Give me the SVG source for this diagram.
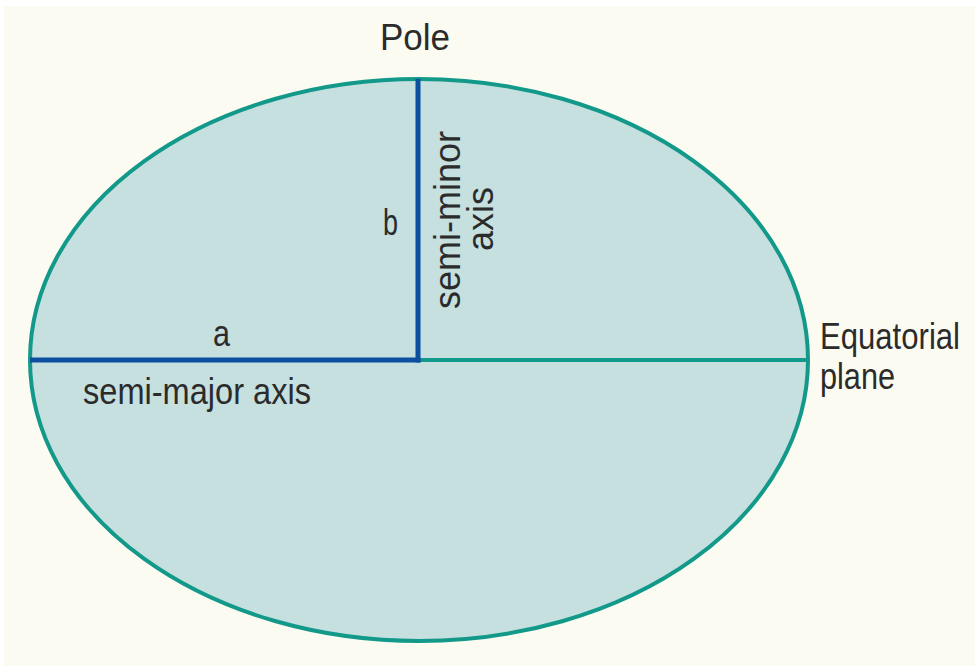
<svg xmlns="http://www.w3.org/2000/svg" width="975" height="666" viewBox="0 0 975 666">
<style>
  .lbl { font-family: "Liberation Sans", Arial, sans-serif; font-size: 36px; fill: #2b2b2b; }
  .teal { stroke: #12998a; stroke-width: 4; fill: none; }
  .blue { stroke: #0c4f9f; stroke-width: 5; fill: none; }
  .body { fill: #c6dfdf; stroke: #12998a; stroke-width: 4; }
</style>
<rect x="0" y="0" width="975" height="666" fill="#ffffff"/>
<rect x="4" y="6" width="971" height="660" fill="#fbfbf1"/>
<g id="ellipse">
  <ellipse cx="419" cy="360" rx="389" ry="281" class="body"/>
</g>
<g id="connectors">
  <line x1="418" y1="360" x2="808" y2="360" class="teal"/>
  <line x1="30" y1="360" x2="420.5" y2="360" class="blue"/>
  <line x1="418" y1="79" x2="418" y2="362.5" class="blue"/>
</g>
<g id="labels">
  <text class="lbl" x="380" y="50" textLength="70" lengthAdjust="spacingAndGlyphs">Pole</text>
  <text class="lbl" x="213" y="346" textLength="17" lengthAdjust="spacingAndGlyphs">a</text>
  <text class="lbl" x="83" y="404" textLength="228" lengthAdjust="spacingAndGlyphs">semi-major axis</text>
  <text class="lbl" x="383" y="235" textLength="15" lengthAdjust="spacingAndGlyphs">b</text>
  <text class="lbl" x="820" y="349" textLength="140" lengthAdjust="spacingAndGlyphs">Equatorial</text>
  <text class="lbl" x="820" y="389" textLength="75" lengthAdjust="spacingAndGlyphs">plane</text>
  <text class="lbl" transform="translate(460,220) rotate(-90)" x="0" y="0" text-anchor="middle">semi-minor</text>
  <text class="lbl" transform="translate(493,219) rotate(-90)" x="0" y="0" text-anchor="middle">axis</text>
</g>
</svg>
